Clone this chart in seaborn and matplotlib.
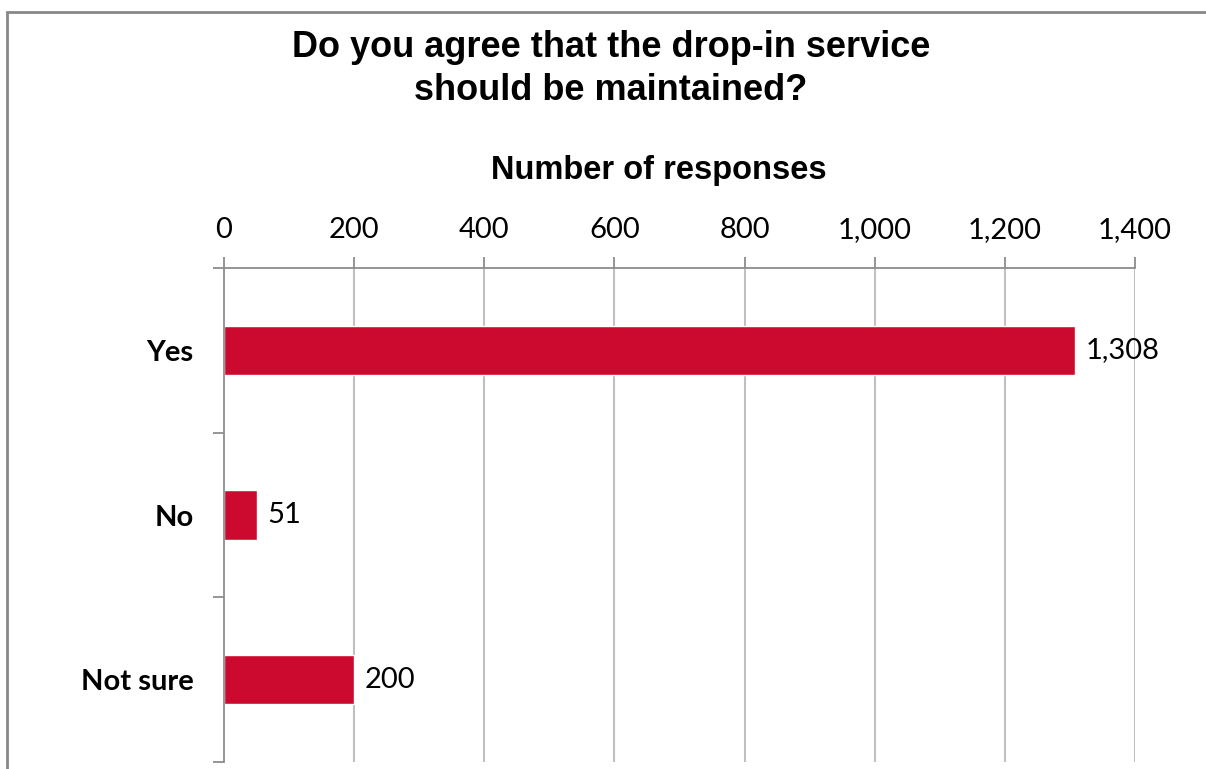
import matplotlib
matplotlib.use("Agg")
import matplotlib.pyplot as plt
import matplotlib.patches as mpatches
from matplotlib.ticker import FuncFormatter, FixedLocator
import seaborn as sns
import pandas as pd

# Survey answers and counts
answers = ["Yes", "No", "Not sure"]
counts = [1308, 51, 200]
x_ticks = [0, 200, 400, 600, 800, 1000, 1200, 1400]

sns.set_theme(style="white")
plt.rcParams["font.family"] = ["Lato", "DejaVu Sans"]
plt.rcParams["text.color"] = "black"
plt.rcParams["xtick.labelcolor"] = "black"
plt.rcParams["ytick.labelcolor"] = "black"

BAR_RED = "#CC0A2F"
AXIS_GREY = "#8C8C8C"
GRID_GREY = "#C0C0C0"

df = pd.DataFrame({"answer": answers, "count": counts})

fig = plt.figure(figsize=(12.06, 7.69), dpi=100)
ax = fig.add_axes([224 / 1206, 1 - 762 / 769, (1135 - 224) / 1206, (762 - 268) / 769])

sns.barplot(data=df, x="count", y="answer", orient="h", color=BAR_RED,
            width=0.3, saturation=1, ax=ax)

ax.set_xlim(0, 1400)
ax.set_ylim(2.5, -0.5)

# Value axis on top with thousands separators
ax.xaxis.set_ticks_position("top")
ax.xaxis.set_label_position("top")
ax.set_xticks(x_ticks)
ax.xaxis.set_major_formatter(FuncFormatter(lambda v, p: f"{int(v):,}"))
ax.tick_params(axis="x", which="major", length=8, width=1.3, color=AXIS_GREY,
               pad=10, labelsize=21, labelcolor="black")
ax.set_xlabel("")

# Category labels, with tick marks on the category boundaries
ax.yaxis.set_minor_locator(FixedLocator([-0.5, 0.5, 1.5, 2.5]))
ax.tick_params(axis="y", which="major", length=0, pad=22, labelsize=21, labelcolor="black")
ax.tick_params(axis="y", which="minor", left=True, length=8, width=1.3, color=AXIS_GREY)
for lab in ax.get_yticklabels():
    lab.set_fontweight("bold")
ax.set_ylabel("")

# Vertical gridlines
for v in x_ticks[1:]:
    ax.axvline(v, color=GRID_GREY, lw=1.5, zorder=0)
ax.set_axisbelow(True)

for side in ["right", "bottom"]:
    ax.spines[side].set_visible(False)
for side in ["top", "left"]:
    ax.spines[side].set_color(AXIS_GREY)
    ax.spines[side].set_linewidth(1.3)

# Data labels
for i, c in enumerate(counts):
    ax.text(c + 16, i, f"{c:,}", va="center", ha="left", fontsize=21, color="black")

# Titles
fig.text(611 / 1206, 1 - 69 / 769, "Do you agree that the drop-in service\nshould be maintained?",
         ha="center", va="center", fontsize=26, fontweight="bold", color="black",
         family=["Liberation Sans", "DejaVu Sans"], linespacing=1.3)
fig.text(659 / 1206, 1 - 170 / 769, "Number of responses", ha="center", va="center",
         fontsize=23.5, fontweight="bold", color="black",
         family=["Liberation Sans", "DejaVu Sans"])

# Chart frame
fig.patches.append(mpatches.Rectangle((7 / 1206, -0.05), 1.1, 1 - 12 / 769 + 0.05,
                                      transform=fig.transFigure, fill=False,
                                      edgecolor="#888888", lw=2))

fig.savefig("out.png", dpi=100)
